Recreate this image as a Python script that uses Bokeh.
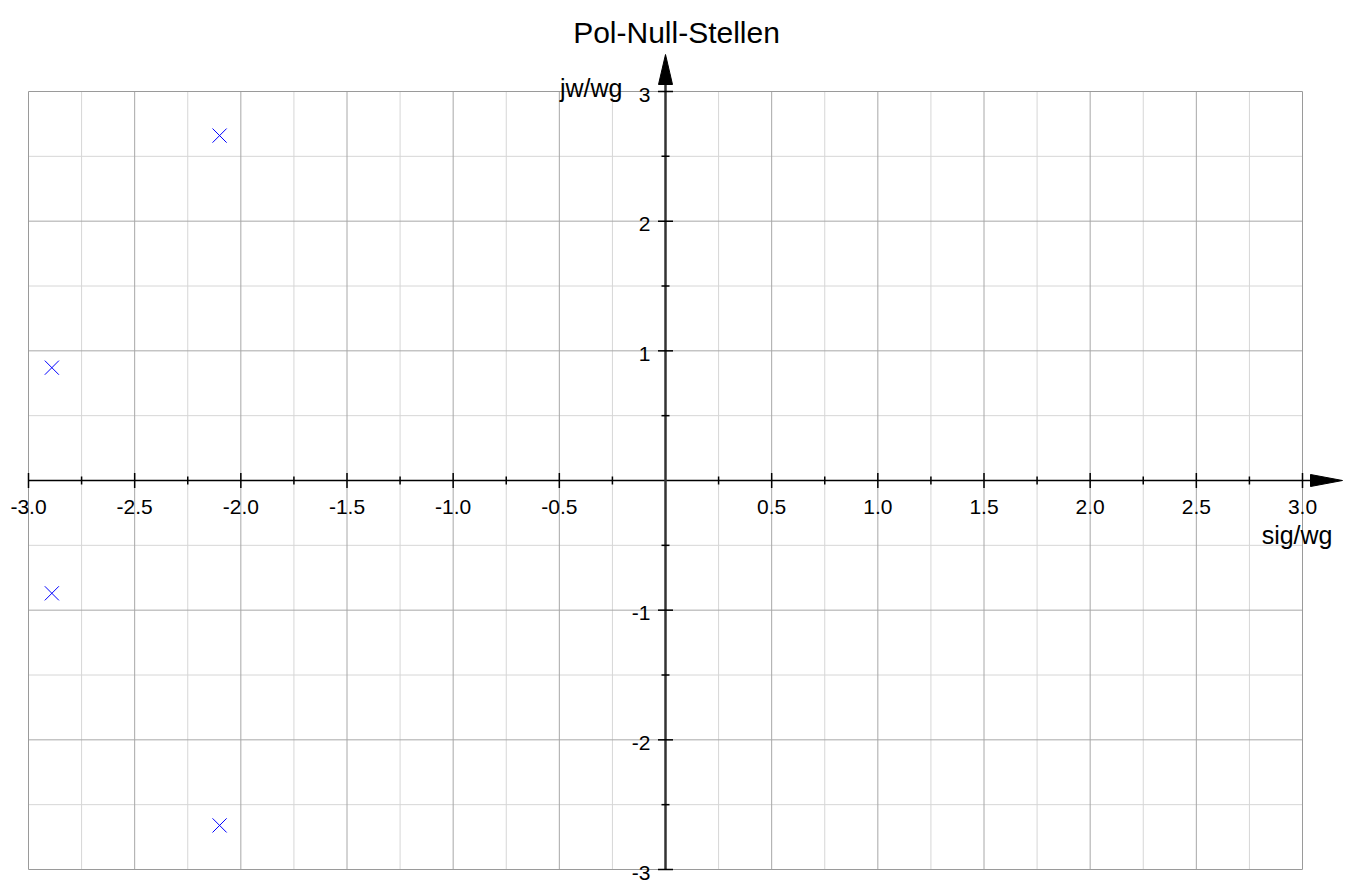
import numpy as np
from bokeh.plotting import figure
from bokeh.models import Label, LabelSet, ColumnDataSource, Range1d
from bokeh.core.properties import value
from bokeh.embed import file_html
from bokeh.resources import INLINE

# ---- data ----
title_text = "Pol-Null-Stellen"
x_label = "sig/wg"
y_label = "jw/wg"
pole_re = [-2.10, -2.89, -2.89, -2.10]
pole_im = [2.66, 0.87, -0.87, -2.66]

x_major = [-3.0, -2.5, -2.0, -1.5, -1.0, -0.5, 0.0, 0.5, 1.0, 1.5, 2.0, 2.5, 3.0]
x_minor = [-2.75, -2.25, -1.75, -1.25, -0.75, -0.25, 0.25, 0.75, 1.25, 1.75, 2.25, 2.75]
y_major = [-3, -2, -1, 0, 1, 2, 3]
y_minor = [-2.5, -1.5, -0.5, 0.5, 1.5, 2.5]
x_tick_labels = ["-3.0", "-2.5", "-2.0", "-1.5", "-1.0", "-0.5", "", "0.5", "1.0", "1.5", "2.0", "2.5", "3.0"]
y_tick_labels = ["-3", "-2", "-1", "", "1", "2", "3"]

# ---- layout (whole canvas is the plotting frame; the visible box is drawn) ----
W, H = 1345, 884
X0, X1, Y0, Y1 = -3.0, 3.0, -3.0, 3.0
PX0, PX1, PY_TOP, PY_BOT = 28, 1302, 91, 869
xppu = (PX1 - PX0) / (X1 - X0)
yppu = (PY_BOT - PY_TOP) / (Y1 - Y0)

p = figure(width=W, height=H,
           x_range=Range1d(X0 - PX0 / xppu, X0 + (W - PX0) / xppu),
           y_range=Range1d(Y1 - (H - PY_TOP) / yppu, Y1 + PY_TOP / yppu),
           x_axis_location=None, y_axis_location=None,
           toolbar_location=None, output_backend="svg",
           min_border=0)
p.outline_line_color = None
p.background_fill_color = "white"
p.border_fill_color = "white"
for g in p.grid:
    g.visible = False

major_grid = "#a8a8a8"
minor_grid = "#d6d6d6"
box_color = "#9a9a9a"

gx_min = x_minor
gx_maj = [v for v in x_major if X0 < v < X1]
gy_min = y_minor
gy_maj = [v for v in y_major if Y0 < v < Y1]
p.segment(x0=gx_min, y0=[Y0] * len(gx_min), x1=gx_min, y1=[Y1] * len(gx_min),
          line_color=minor_grid, line_width=1)
p.segment(x0=[X0] * len(gy_min), y0=gy_min, x1=[X1] * len(gy_min), y1=gy_min,
          line_color=minor_grid, line_width=1)
p.segment(x0=gx_maj, y0=[Y0] * len(gx_maj), x1=gx_maj, y1=[Y1] * len(gx_maj),
          line_color=major_grid, line_width=1)
p.segment(x0=[X0] * len(gy_maj), y0=gy_maj, x1=[X1] * len(gy_maj), y1=gy_maj,
          line_color=major_grid, line_width=1)
p.quad(left=[X0], right=[X1], bottom=[Y0], top=[Y1], fill_color=None,
       line_color=box_color, line_width=1)

# axis lines through origin with arrow heads
xa_base = X1 + 8 / xppu
xa_tip = X1 + 40 / xppu
ya_base = Y1 + 7 / yppu
ya_tip = Y1 + 37 / yppu
p.segment(x0=[X0], y0=[0], x1=[xa_base], y1=[0], line_color="black", line_width=1.5)
p.segment(x0=[0], y0=[Y0], x1=[0], y1=[ya_base], line_color="#333333", line_width=2.5)
p.patch(x=[xa_base, xa_tip, xa_base], y=[6 / yppu, 0, -6 / yppu],
        fill_color="black", line_color="black", line_width=1)
p.patch(x=[-7 / xppu, 0, 7 / xppu], y=[ya_base, ya_tip, ya_base],
        fill_color="black", line_color="black", line_width=1)

# tick marks crossing the axes
xmaj_t = [v for v in x_major if v != 0]
ymaj_t = [v for v in y_major if v != 0]
p.scatter(x=xmaj_t, y=[0] * len(xmaj_t), marker="dash", size=15, angle=np.pi / 2,
          line_color="black", line_width=1.5)
p.scatter(x=x_minor, y=[0] * len(x_minor), marker="dash", size=8, angle=np.pi / 2,
          line_color="black", line_width=1.5)
p.scatter(x=[0] * len(ymaj_t), y=ymaj_t, marker="dash", size=15,
          line_color="black", line_width=1.5)
p.scatter(x=[0] * len(y_minor), y=y_minor, marker="dash", size=8,
          line_color="black", line_width=1.5)

# poles
p.scatter(x=pole_re, y=pole_im, marker="x", size=20, line_color="blue", line_width=1)

FONT = "Liberation Sans"
xsrc = ColumnDataSource(dict(x=x_major, y=[0] * len(x_major), t=x_tick_labels))
p.add_layout(LabelSet(x="x", y="y", text="t", source=xsrc, y_offset=-33,
                      text_align="center", text_baseline="alphabetic",
                      text_font=value(FONT), text_font_size=value("21px"), text_color="black"))
ysrc = ColumnDataSource(dict(x=[0] * len(y_major), y=y_major, t=y_tick_labels))
p.add_layout(LabelSet(x="x", y="y", text="t", source=ysrc, x_offset=-15, y_offset=-10,
                      text_align="right", text_baseline="alphabetic",
                      text_font=value(FONT), text_font_size=value("21px"), text_color="black"))

p.add_layout(Label(x=0, y=Y1, x_offset=-43, y_offset=4, text=y_label,
                   text_align="right", text_baseline="alphabetic",
                   text_font=FONT, text_font_size="25px", text_color="black"))
p.add_layout(Label(x=X1, y=0, x_offset=30, y_offset=-54, text=x_label,
                   text_align="right", text_baseline="alphabetic",
                   text_font=FONT, text_font_size="25px", text_color="black"))
p.add_layout(Label(x=0, y=Y1, x_offset=11, y_offset=59, text=title_text,
                   text_align="center", text_baseline="alphabetic",
                   text_font=FONT, text_font_size="30px", text_color="black"))

open("out.html", "w").write(file_html(p, INLINE))
